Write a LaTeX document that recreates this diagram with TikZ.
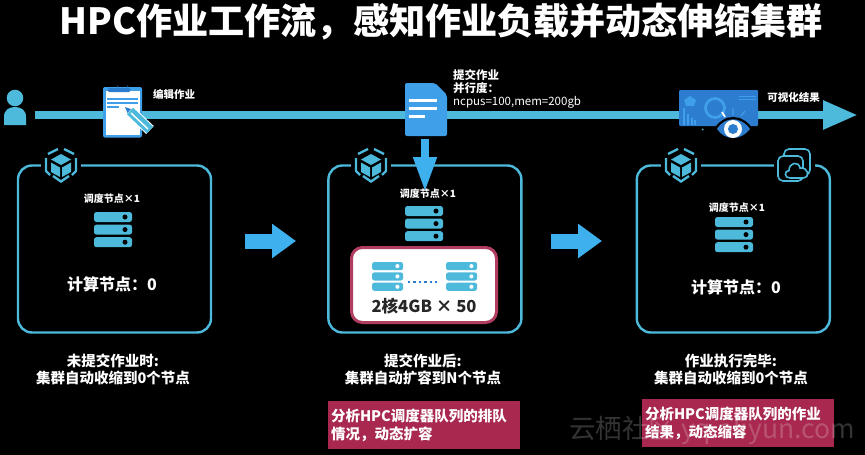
\documentclass[tikz,border=0pt]{standalone}
\usepackage{fontspec}
\setmainfont{Noto Sans CJK SC}
\usepackage{xcolor}
\usetikzlibrary{arrows.meta,positioning}

\definecolor{lineblue}{HTML}{4DB9DB}
\definecolor{arrowblue}{HTML}{3FB0EE}
\definecolor{iconblue}{HTML}{3F9FE8}
\definecolor{deepblue}{HTML}{2C7CCF}
\definecolor{crimson}{HTML}{A8284F}

\newcommand{\fsize}[2]{\fontsize{#1}{#2}\selectfont}

\newcommand{\serverstack}[4]{%
  \begin{scope}[shift={(#1,#2)},scale=#3]
    \foreach \row in {0,12.6,25.2}{
      \fill[lineblue,rounded corners=2.5pt] (0,\row) rectangle (38,\row+10);
      \fill[#4] (31,\row+5) circle (2.5);
    }
  \end{scope}}

\tikzset{
  stage/.style={draw=lineblue, line width=2.4pt, rounded corners=14pt, minimum width=193pt, minimum height=167pt, inner sep=0pt},
  note/.style={text=white, font=\fsize{10.5}{13}\bfseries, inner sep=0pt},
  lead/.style={text=white, font=\fsize{10}{12}\bfseries, inner sep=0pt},
  caption/.style={text=white, font=\fsize{14.5}{17}\bfseries, align=center, inner sep=0pt},
  countlabel/.style={text=white, font=\fsize{16}{19}\bfseries, inner sep=0pt},
  advice/.style={fill=crimson, text=white, font=\fsize{14.5}{18}\bfseries, align=left, text width=186pt, minimum height=48pt, inner sep=3pt},
  flow/.style={line width=8.5pt, draw=lineblue, -{Triangle[length=35pt,width=27pt]}},
  stagearrow/.style={line width=15pt, draw=arrowblue, -{Triangle[length=24pt,width=33pt]}},
  cubeicon/.pic={
    \fill[black] (-20,-18) rectangle (20,18);
    \fill[lineblue] (0,-12) -- (10,-6.5) -- (0,-1) -- (-10,-6.5) -- cycle;
    \fill[lineblue] (-10,-3.5) -- (-1,1.5) -- (-1,11) -- (-10,6) -- cycle;
    \fill[lineblue] (10,-3.5) -- (1,1.5) -- (1,11) -- (10,6) -- cycle;
    \draw[lineblue, line width=2.4pt] (-3,-17) -- (-13,-12) (3,-17) -- (13,-12);
    \draw[lineblue, line width=2.4pt] (-15,-8) -- (-15,5) -- (-11,9);
    \draw[lineblue, line width=2.4pt] (15,-8) -- (15,5) -- (11,9);
    \draw[lineblue, line width=2.4pt] (-8,10) -- (0,15.5) -- (8,10);
  },
  cloudicon/.pic={
    \fill[black] (-20,-18) rectangle (21,18);
    \draw[lineblue, line width=1.6pt, rounded corners=5pt] (-10,-17) rectangle (16,9);
    \draw[lineblue, line width=1.6pt, rounded corners=5pt, fill=black] (-16,-10) rectangle (9,15);
    \draw[lineblue, line width=1.6pt, fill=black] (-4,12) .. controls (-10,12) and (-10,5) .. (-5,4.5) .. controls (-5,-4) and (5,-5) .. (6,2) .. controls (14,1) and (17,11) .. (9,12) -- cycle;
  }
}

\begin{document}
\begin{tikzpicture}[x=1pt, y=-1pt]
\useasboundingbox[fill=black] (0,0) rectangle (865,455);

% title
\node[text=white, font=\fsize{36.1}{42}\bfseries, inner sep=0pt] (title) at (441,22) {HPC作业工作流，感知作业负载并动态伸缩集群};

% timeline
\coordinate (flowstart) at (35,115);
\coordinate (flowend) at (858,115);
\draw[flow] (flowstart) -- (flowend);

% user
\fill[lineblue] (15,98) circle (8.3);
\fill[lineblue] (4,125) -- (4,117) .. controls (4,110) and (9,107) .. (15,107) .. controls (21,107) and (26,110) .. (26,117) -- (26,125) -- cycle;

% clipboard
\fill[iconblue, rounded corners=2pt] (103,87) rectangle (142,137.5);
\fill[white] (105.5,91) rectangle (139.5,134.5);
\fill[deepblue, rounded corners=1pt] (108,88) rectangle (130,92);
\fill[deepblue] (117,89) -- (117,85) arc (180:0:5.5) -- (128,89) -- cycle;
\fill[iconblue] (107,98) rectangle (138,100);
\fill[iconblue] (107,102) rectangle (138,104);
\fill[iconblue] (107,106) rectangle (119,108);
\draw[line width=11pt, white] (129,110) -- (150,130);
\draw[line width=9pt, lineblue] (130,111) -- (150,130);
\draw[line width=1.4pt, white] (131,113) -- (148,129);
\fill[deepblue] (125,107) -- (131,109) -- (127.5,113) -- cycle;
\node[note] (edit) at (174,94) {编辑作业};

% job file
\fill[iconblue, rounded corners=2pt] (405,83) -- (435,83) -- (447,95) -- (447,136) -- (405,136) -- cycle;
\fill[white] (409,98.5) rectangle (437,101.5);
\fill[white] (409,106.5) rectangle (437,110);
\fill[white] (409,114.5) rectangle (425,118);
\node[note, font=\fsize{11.5}{13}\bfseries, align=left, anchor=north west] (submit) at (453,69) {提交作业\\并行度：\\{\mdseries ncpus=100,mem=200gb}};

% dashboard
\fill[deepblue, rounded corners=1pt] (679,90) rectangle (758,126);
\fill[iconblue] (690,96) -- (696,100) -- (694,106) -- (686,106) -- (684,100) -- cycle;
\draw[iconblue, line width=2.8pt] (715,108) circle (9.5);
\draw[iconblue, line width=1pt] (739,96) -- (756,96) (739,99.5) -- (756,99.5);
\foreach \bar/\top in {684/108,688/114,692/118,695/120}
  \draw[iconblue, line width=1.5pt] (\bar,125) -- (\bar,\top);
\draw[white, line width=1.8pt] (722,112) -- (725,117);
\draw[iconblue, line width=1.2pt] (733,108) -- (733,115) (745,111) -- (741,116);
\fill[black] (714,129) .. controls (724,113) and (742,113) .. (753,129) .. controls (742,144) and (724,144) .. (714,129) -- cycle;
\fill[deepblue] (717,129) .. controls (725,116) and (741,116) .. (750,129) .. controls (741,141) and (725,141) .. (717,129) -- cycle;
\fill[white] (733,129) circle (9);
\fill[deepblue] (733,129) circle (5);
\fill[lineblue] (702.5,129.5) circle (1);
\node[note] (result) at (793.5,97) {可视化结果};

% stages
\node[stage] (stagea) at (114.5,249) {};
\node[stage, right=115pt of stagea] (stageb) {};
\node[stage, right=113pt of stageb] (stagec) {};
\pic at (61,166) {cubeicon};
\pic at (371,166) {cubeicon};
\pic at (681,166) {cubeicon};
\pic at (794,166) {cloudicon};

% submit arrow
\coordinate (dropstart) at (425,139);
\coordinate (dropend) at (425,192);
\draw[line width=7.5pt, draw=arrowblue, -{Triangle[length=35pt,width=22pt]}] (dropstart) -- (dropend);

% arrows between stages
\coordinate (stepa) at (245,241);
\coordinate (stepb) at (296,241);
\coordinate (stepc) at (551,241);
\coordinate (stepd) at (602,241);
\draw[stagearrow] (stepa) -- (stepb);
\draw[stagearrow] (stepc) -- (stepd);

% first stage
\node[lead] (leada) at (112,199) {调度节点×1};
\serverstack{94}{212}{1}{black}
\node[countlabel] (counta) at (112,284) {计算节点：0};

% second stage
\node[lead] (leadb) at (428,194) {调度节点×1};
\serverstack{405}{206}{1}{black}
\node[draw=crimson!90!white, fill=white, line width=3pt, rounded corners=11pt, minimum width=145pt, minimum height=75pt] (pool) at (424,285) {};
\serverstack{372}{262}{0.82}{white}
\serverstack{446}{262}{0.82}{white}
\draw[deepblue, line width=2.4pt, dash pattern=on 2.4pt off 3pt] (408,282) -- (438,282);
\node[text=black!85, font=\fsize{16.6}{20}\bfseries, inner sep=0pt] (poolsize) at (424,306) {2核4GB × 50};

% third stage
\node[lead] (leadc) at (737,208) {调度节点×1};
\serverstack{715}{217}{1}{black}
\node[countlabel] (countc) at (736,287) {计算节点：0};

% captions
\node[caption] (capa) at (113,369) {未提交作业时:\\集群自动收缩到0个节点};
\node[caption] (capb) at (423,369) {提交作业后:\\集群自动扩容到N个节点};
\node[caption] (capc) at (731,369) {作业执行完毕:\\集群自动收缩到0个节点};

% advice boxes
\node[advice] (adviceb) at (424,425) {分析HPC调度器队列的排队\\情况，动态扩容};
\node[advice] (advicec) at (738,423) {分析HPC调度器队列的作业\\结果，动态缩容};

% watermark
\node[text=white, opacity=0.2, font=\fsize{26.5}{32}, inner sep=0pt, anchor=east] (mark) at (855,430) {云栖社区 yq.aliyun.com};
\end{tikzpicture}
\end{document}
